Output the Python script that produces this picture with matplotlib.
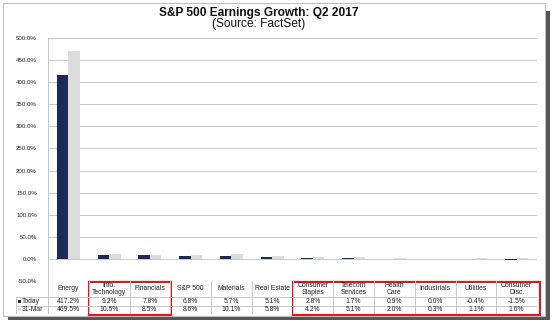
import matplotlib
matplotlib.use("Agg")
import matplotlib.pyplot as plt
from matplotlib.patches import Rectangle
import numpy as np

plt.rcParams['font.family'] = ['Liberation Sans', 'DejaVu Sans']

categories = ["Energy", "Info.\nTechnology", "Financials", "S&P 500", "Materials", "Real Estate",
              "Consumer\nStaples", "Telecom\nServices", "Health\nCare", "Industrials", "Utilities",
              "Consumer\nDisc."]
today = [417.2, 9.2, 7.8, 6.8, 5.7, 5.1, 2.8, 1.7, 0.9, 0.0, -0.4, -1.5]
mar31 = [469.5, 10.5, 8.5, 8.6, 10.1, 5.8, 4.2, 5.1, 2.0, 0.3, 1.1, 1.6]
series_names = ["Today", "31-Mar"]
yticks = [-50, 0, 50, 100, 150, 200, 250, 300, 350, 400, 450, 500]

NAVY = "#1b2a57"
LGRAY = "#dcdcdc"
GRID = "#c8c8c8"
TXT = "#222222"
TFS = 4.9

W, H = 554, 323
fig = plt.figure(figsize=(W / 100, H / 100), dpi=100)

def fx(px):
    return px / W

def fy(py):
    return 1 - py / H

# frame and shadow
fig.patches.append(Rectangle((fx(546), fy(320)), fx(4), (316 - 7) / H, transform=fig.transFigure,
                             facecolor="#555555", edgecolor="none", zorder=-10))
fig.patches.append(Rectangle((fx(8), fy(320)), fx(542 - 4), 4 / H, transform=fig.transFigure,
                             facecolor="#555555", edgecolor="none", zorder=-10))
fig.patches.append(Rectangle((fx(3), fy(316)), fx(542), (313) / H, transform=fig.transFigure,
                             facecolor="white", edgecolor="#c0c0c0", linewidth=0.8, zorder=-10))

# main axes
left, right, top, bottom = 48, 537, 38, 281
ax = fig.add_axes([fx(left), fy(bottom), fx(right - left), (bottom - top) / H])
n = len(categories)
x = np.arange(n)
bw = 0.285
ax.bar(x - bw / 2, today, bw, color=NAVY, zorder=3)
ax.bar(x + bw / 2, mar31, bw, color=LGRAY, zorder=3)
ax.set_xlim(-0.5, n - 0.5)
ax.set_ylim(-50, 500)
ax.set_yticks(yticks)
ax.set_yticklabels([f"{v:.1f}%" for v in yticks], fontsize=4.4, color=TXT)
ax.tick_params(axis='y', length=0, pad=8)
ax.set_xticks([])
for v in yticks:
    ax.axhline(v, color=GRID, linewidth=0.7, zorder=1)
for s in ["top", "right", "bottom"]:
    ax.spines[s].set_visible(False)
ax.spines["left"].set_color(GRID)
ax.spines["left"].set_linewidth(0.7)
ax.set_facecolor("none")

# table axes (pixel coordinates)
tl, tr, tt, tb = 16, 537, 281, 314
tax = fig.add_axes([fx(tl), fy(tb), fx(tr - tl), (tb - tt) / H])
tax.set_xlim(tl, tr)
tax.set_ylim(tb, tt)
tax.axis("off")
colw = (right - left) / n
r1, r2 = 297, 305.5
lw = 0.7
tax.plot([tl, right], [r1, r1], color=GRID, lw=lw)
tax.plot([tl, right], [r2, r2], color=GRID, lw=lw)
tax.plot([tl, right], [tb - 0.5, tb - 0.5], color=GRID, lw=lw)
tax.plot([tl, tl], [r1, tb - 0.5], color=GRID, lw=lw)
for k in range(n + 1):
    xx = left + k * colw
    tax.plot([xx, xx], [tt, tb - 0.5], color=GRID, lw=lw)

for k, cat in enumerate(categories):
    cx = left + (k + 0.5) * colw
    tax.text(cx, (tt + r1) / 2, cat, ha="center", va="center", fontsize=TFS, color=TXT,
             linespacing=0.9)
    tax.text(cx, (r1 + r2) / 2, f"{today[k]:.1f}%", ha="center", va="center", fontsize=TFS, color=TXT)
    tax.text(cx, (r2 + tb) / 2, f"{mar31[k]:.1f}%", ha="center", va="center", fontsize=TFS, color=TXT)

for name, col, y0, y1 in [(series_names[0], NAVY, r1, r2), (series_names[1], LGRAY, r2, tb)]:
    ym = (y0 + y1) / 2
    tax.add_patch(Rectangle((18, ym - 1.6), 3.2, 3.2, facecolor=col, edgecolor="none"))
    tax.text(22, ym, name, ha="left", va="center", fontsize=TFS, color=TXT)

# red highlight boxes
RED = "#e8141c"
tax.add_patch(Rectangle((left + colw + 0.5, tt + 0.5), 2 * colw, 33, fill=False,
                        edgecolor=RED, lw=1.5, clip_on=False))
tax.add_patch(Rectangle((left + 6 * colw + 0.5, tt + 0.5), 6 * colw + 2, 33, fill=False,
                        edgecolor=RED, lw=1.5, clip_on=False))

# titles
fig.text(fx(259), fy(13), "S&P 500 Earnings Growth: Q2 2017", ha="center", va="center",
         fontsize=8.6, fontweight="bold", color="#111111")
fig.text(fx(259), fy(23.5), "(Source: FactSet)", ha="center", va="center",
         fontsize=8.6, color="#111111")

fig.savefig("out.png", dpi=100)
